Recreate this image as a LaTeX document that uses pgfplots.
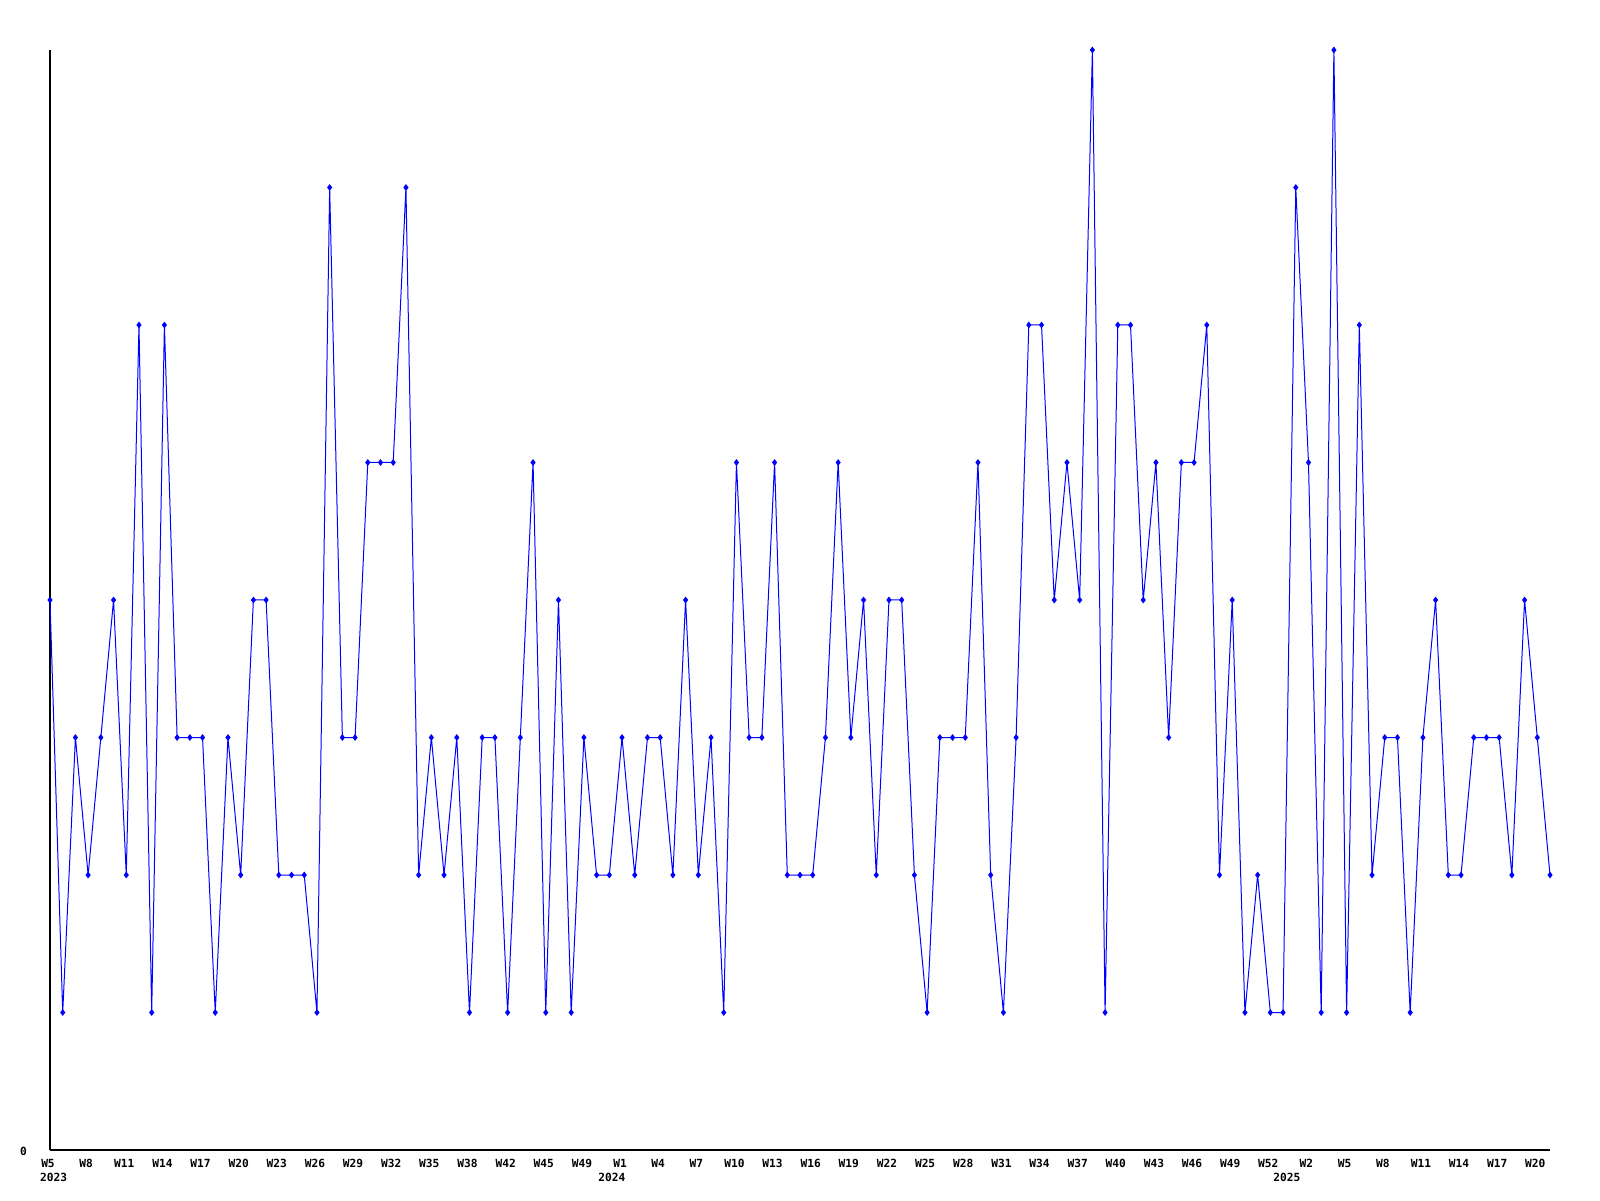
\documentclass[border=0pt]{standalone}
\usepackage{fontspec}
\usepackage{pgfplots}
\pgfplotsset{compat=1.18}
\newfontfamily\pixfont[BoldFont={DejaVu Sans Mono Bold}]{DejaVu Sans Mono}
\begin{document}
\begin{tikzpicture}
\useasboundingbox[fill=white] (-25pt,-25pt) rectangle (775pt,575pt);
\begin{axis}[
  at={(0,0)}, anchor=south west,
  scale only axis, width=750pt, height=550pt,
  xmin=0, xmax=118, ymin=0, ymax=8,
  axis lines=left, axis line style={-, black, line width=0.6pt},
  major tick length=0pt,
  ytick={0}, yticklabels={0},
  yticklabel style={font=\pixfont\bfseries\fontsize{5.6}{6}\selectfont, xshift=-8pt, yshift=-0.5pt},
  xtick={0,3,...,117},
  xticklabels={W5,W8,W11,W14,W17,W20,W23,W26,W29,W32,W35,W38,W42,W45,W49,W1,W4,W7,W10,W13,W16,W19,W22,W25,W28,W31,W34,W37,W40,W43,W46,W49,W52,W2,W5,W8,W11,W14,W17,W20},
  xticklabel style={font=\pixfont\bfseries\fontsize{5.6}{6}\selectfont, yshift=-1pt, xshift=-1pt},
  clip=false,
]
\addplot[color={rgb,255:red,0;green,0;blue,255}, line width=0.5pt, mark=diamond*, mark size=1.3pt] coordinates {
(0,4)(1,1)(2,3)(3,2)(4,3)(5,4)(6,2)(7,6)(8,1)(9,6)(10,3)(11,3)(12,3)(13,1)(14,3)
(15,2)(16,4)(17,4)(18,2)(19,2)(20,2)(21,1)(22,7)(23,3)(24,3)(25,5)(26,5)(27,5)(28,7)(29,2)
(30,3)(31,2)(32,3)(33,1)(34,3)(35,3)(36,1)(37,3)(38,5)(39,1)(40,4)(41,1)(42,3)(43,2)(44,2)
(45,3)(46,2)(47,3)(48,3)(49,2)(50,4)(51,2)(52,3)(53,1)(54,5)(55,3)(56,3)(57,5)(58,2)
(59,2)(60,2)(61,3)(62,5)(63,3)(64,4)(65,2)(66,4)(67,4)(68,2)(69,1)(70,3)(71,3)(72,3)(73,5)(74,2)
(75,1)(76,3)(77,6)(78,6)(79,4)(80,5)(81,4)(82,8)(83,1)(84,6)(85,6)(86,4)(87,5)(88,3)(89,5)
(90,5)(91,6)(92,2)(93,4)(94,1)(95,2)(96,1)(97,1)(98,7)(99,5)(100,1)(101,8)(102,1)(103,6)
(104,2)(105,3)(106,3)(107,1)(108,3)(109,4)(110,2)(111,2)(112,3)(113,3)(114,3)(115,2)(116,4)(117,3)(118,2)
};
\node[font=\pixfont\bfseries\fontsize{5.6}{6}\selectfont, inner sep=0pt] at (axis cs:0.28,0) [yshift=-13.5pt] {2023};
\node[font=\pixfont\bfseries\fontsize{5.6}{6}\selectfont, inner sep=0pt] at (axis cs:44.2,0) [yshift=-13.5pt] {2024};
\node[font=\pixfont\bfseries\fontsize{5.6}{6}\selectfont, inner sep=0pt] at (axis cs:97.3,0) [yshift=-13.5pt] {2025};
\end{axis}
\end{tikzpicture}
\end{document}
